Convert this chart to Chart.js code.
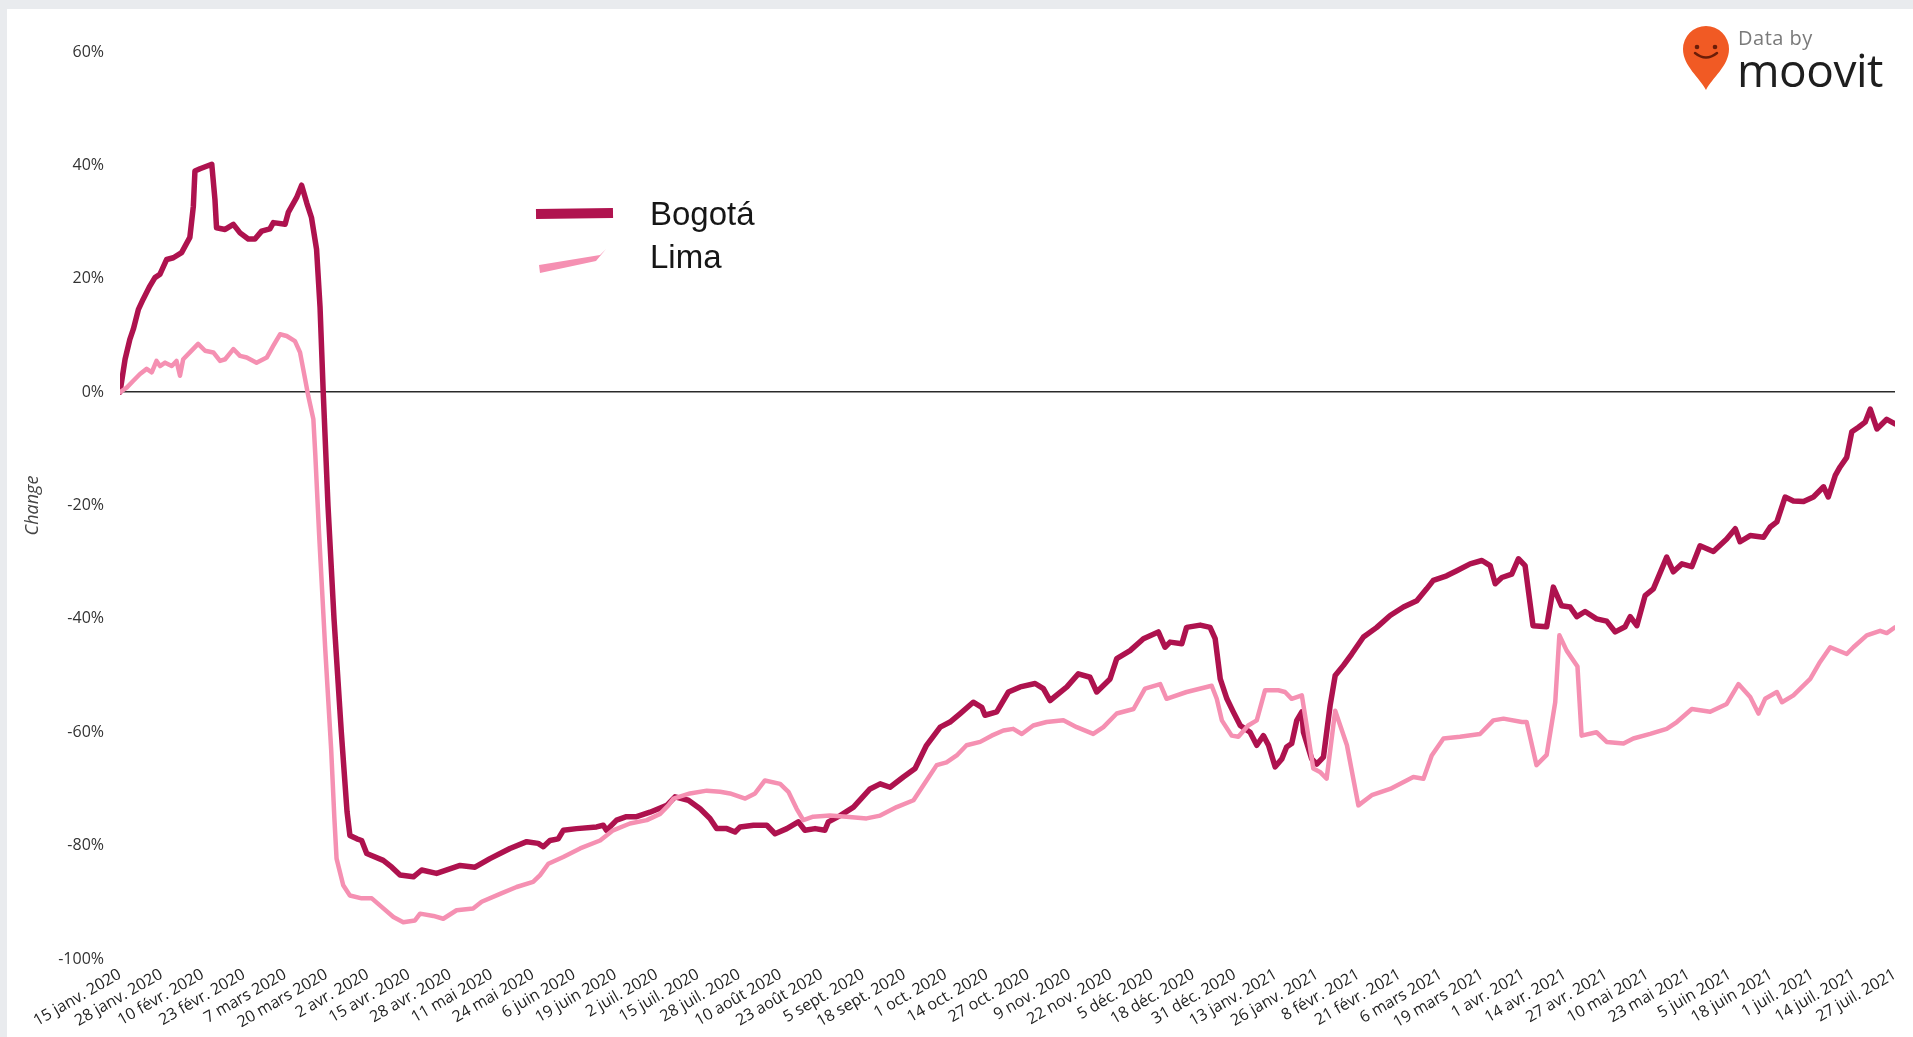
<!DOCTYPE html>
<html>
<head>
<meta charset="utf-8">
<script src="https://cdn.jsdelivr.net/npm/chart.js@4/dist/chart.umd.min.js"></script>
<style>
  html, body { margin: 0; padding: 0; width: 1913px; height: 1037px; overflow: hidden; background: #e9ebee; }
  #card { position: absolute; left: 7px; top: 9px; right: 0; bottom: 0; background: #ffffff; }
  #c { position: absolute; left: 0; top: 0; }
  .legend { position: absolute; left: 530px; top: 190px; font-family: "Liberation Sans", Arial, sans-serif; font-size: 33px; color: #161616; }
  .legend .row { position: absolute; left: 0; white-space: nowrap; height: 40px; }
  .legend .lbl { position: absolute; left: 120px; top: 0; line-height: 40px; }
  .logo { position: absolute; left: 1676px; top: 20px; width: 230px; height: 75px; }
  .logo .data { position: absolute; left: 62px; top: 4px; font-family: "Open Sans", sans-serif; font-size: 20px; color: #7a7a7a; letter-spacing: 0.5px; }
  .logo .moovit { position: absolute; left: 61px; top: 20px; font-family: "Open Sans", sans-serif; font-size: 46px; font-weight: 500; color: #1e1e1e; letter-spacing: -0.5px; line-height: 58px; }
</style>
</head>
<body>
<div id="card"></div>
<canvas id="c" width="1913" height="1037"></canvas>
<div class="legend">
  <div class="row" style="top:4px">
    <svg width="100" height="40" style="position:absolute;left:0;top:0"><line x1="6" y1="20" x2="83" y2="19" stroke="#b0134f" stroke-width="10"/></svg>
    <span class="lbl">Bogotá</span>
  </div>
  <div class="row" style="top:47px">
    <svg width="100" height="40" style="position:absolute;left:0;top:0"><path d="M9 28 L 70 18 L 76 12 L 66 24 L 10 36 Z" fill="#f590b2"/></svg>
    <span class="lbl">Lima</span>
  </div>
</div>
<div class="logo">
  <svg width="56" height="72" style="position:absolute;left:2px;top:2px" viewBox="0 0 56 72">
    <path d="M28 68 C 22 56, 5 44, 5 27 A 23 23 0 0 1 51 27 C 51 44, 34 56, 28 68 Z" fill="#f15a24"/>
    <circle cx="19" cy="25" r="2.3" fill="#6b1d08"/>
    <circle cx="37" cy="25" r="2.3" fill="#6b1d08"/>
    <path d="M17 31 Q 28 40, 39 31" stroke="#6b1d08" stroke-width="2.5" fill="none" stroke-linecap="round"/>
  </svg>
  <div class="data">Data by</div>
  <div class="moovit">moovit</div>
</div>
<script>
const xTickLabels = [
  "15 janv. 2020","28 janv. 2020","10 févr. 2020","23 févr. 2020","7 mars 2020","20 mars 2020",
  "2 avr. 2020","15 avr. 2020","28 avr. 2020","11 mai 2020","24 mai 2020","6 juin 2020",
  "19 juin 2020","2 juil. 2020","15 juil. 2020","28 juil. 2020","10 août 2020","23 août 2020",
  "5 sept. 2020","18 sept. 2020","1 oct. 2020","14 oct. 2020","27 oct. 2020","9 nov. 2020",
  "22 nov. 2020","5 déc. 2020","18 déc. 2020","31 déc. 2020","13 janv. 2021","26 janv. 2021",
  "8 févr. 2021","21 févr. 2021","6 mars 2021","19 mars 2021","1 avr. 2021","14 avr. 2021",
  "27 avr. 2021","10 mai 2021","23 mai 2021","5 juin 2021","18 juin 2021","1 juil. 2021",
  "14 juil. 2021","27 juil. 2021"
];
const yTickValues = [60, 40, 20, 0, -20, -40, -60, -80, -100];
const seriesNames = ["Bogotá", "Lima"];

// days since 15 janv. 2020
const bogotaDays = [0,1.6,3.1,4.2,5.8,7.3,9.4,11,12.6,14.7,16.8,19.4,22,23.1,23.6,25.2,28.9,29.9,30.4,33.1,35.7,37.8,40.4,42.5,44.6,47.2,48.3,52,53,55.6,57.2,58.8,60.3,61.9,63,64,65.5,67.4,69.7,71.5,72.4,74.6,76.1,77.7,82.9,85.6,88.2,92.4,95,99.7,107.1,111.8,116.5,122.8,128.1,131.7,133.3,135.4,138,139.6,143.8,150.1,152.2,153.2,156.4,159.5,162.7,166.9,172.2,174.8,179,182.7,185.8,187.9,191.1,193.7,195.3,199.5,203.7,206.3,210,213.6,215.7,218.9,222,223.1,226.8,231,236.2,239.4,242.5,246.7,250.4,254,258.3,261.4,264.6,268.7,271.4,272.4,276.1,279.8,283.5,288.2,290.8,292.9,298.2,301.8,305.5,307.6,311.8,313.9,318.1,322.3,327,329.1,330.7,334.4,335.9,340.2,343.3,344.9,346.5,348.6,350.6,352.8,355.9,358,360.1,361.7,363.8,365.9,367.4,369,370.6,372.2,372.7,375.3,376.9,379,381.1,382.7,385.3,387.9,391.6,395.8,400,404.2,408.4,411.5,413.6,417.8,421,425.2,428.9,431.5,433.1,435.2,438.3,440.4,442.5,445,449.3,451.4,454,456.7,458.8,461.4,465,468.2,470.9,474,475.6,477.7,480.3,482.9,487.1,489.2,491.9,495,497.6,501.8,506,508.7,510.2,513.4,517.6,519.7,521.8,524.4,527,530.2,533.3,536.5,538,540.2,541.7,543.8,545.4,547.5,549.6,551.2,553.3,556.4,559];
const bogotaChange = [0,5.8,9.3,11.1,14.6,16.4,18.7,20.2,20.8,23.4,23.7,24.6,27.3,32.8,39,39.4,40.2,34,29,28.7,29.6,28.1,27,27,28.4,28.8,29.9,29.6,31.7,34.3,36.5,33.4,30.8,25.2,15,0,-20,-40,-60,-74,-78.2,-78.8,-79.1,-81.4,-82.6,-83.8,-85.2,-85.5,-84.3,-84.9,-83.5,-83.8,-82.3,-80.5,-79.3,-79.6,-80.2,-79.1,-78.8,-77.3,-77,-76.7,-76.4,-77.3,-75.5,-74.9,-74.9,-74.1,-72.9,-71.4,-72,-73.5,-75.2,-77,-77,-77.6,-76.7,-76.4,-76.4,-77.9,-77,-75.8,-77.3,-77,-77.3,-75.8,-74.7,-73.2,-70,-69.1,-69.7,-67.9,-66.4,-62.3,-59.1,-58.2,-56.7,-54.7,-55.6,-57,-56.4,-52.9,-52,-51.4,-52.3,-54.4,-52,-49.7,-50.3,-52.9,-50.6,-47,-45.6,-43.5,-42.3,-45,-44.1,-44.4,-41.5,-41.1,-41.5,-43.5,-50.6,-54.1,-56.4,-58.8,-60,-62.3,-60.6,-62.3,-66.1,-64.7,-62.6,-62,-57.9,-56.4,-60,-64.7,-65.6,-64.4,-55.3,-50,-48.2,-46.2,-43.2,-41.5,-39.4,-37.9,-36.8,-34.7,-33.2,-32.4,-31.5,-30.3,-29.7,-30.6,-33.8,-32.7,-32.1,-29.4,-30.6,-41.2,-41.4,-34.4,-37.7,-37.9,-39.6,-38.7,-40,-40.4,-42.3,-41.4,-39.6,-41.2,-35.9,-34.7,-29.1,-31.7,-30.3,-30.8,-27.1,-28.1,-25.9,-24.1,-26.4,-25.3,-25.6,-23.8,-22.9,-18.5,-19.2,-19.3,-18.5,-16.7,-18.5,-14.7,-13.2,-11.5,-7,-6.2,-5.3,-3,-6.5,-4.8,-5.6];

const limaDays = [0,2.1,4.2,6.3,8.4,10,11.5,12.6,14.2,16.3,17.8,18.9,19.9,22,24.6,26.8,29.4,31.5,33.1,35.7,37.8,39.9,43,46.2,48.3,50.4,52.5,55.1,56.7,58.3,59.3,60.9,61.5,62.7,64.6,66.5,67.5,68.2,70.3,72.4,76.1,79.3,82.4,86.1,89.2,92.9,94.5,98.7,101.8,106,111.2,113.9,119.7,124.9,130.1,132.3,134.9,139.6,144.9,151.2,155.3,160.6,165.9,170.1,172.7,174.3,179.5,184.8,189,192.1,196.9,200,203.1,207.9,210.5,213.1,215.2,218.3,223.6,228.8,235.1,239.4,244.6,249.9,254,257.2,260.3,263.5,266.6,270.9,274.5,278.2,281.3,284,287.6,291.8,297.1,301.3,306.5,309.7,313.9,319.2,322.8,327.6,329.6,335.9,343.8,345.4,347,350.1,352.2,355.3,358,360.6,364.8,366.9,369,372.2,373.7,375.8,377.9,380,382.7,386.4,390,394.2,400,407.3,410.5,413.1,416.8,422,428.3,432.5,435.7,441.5,443,446.1,449.3,452,453.3,455.6,459,460.3,465,468.2,473.5,476.6,481.9,487.1,490.3,495,500.8,506,509.7,513.4,516,518.1,521.8,523.4,527,532.3,535.4,538.6,543.8,545.9,550.1,554.3,556.4,559];
const limaChange = [0,0.8,2,3.2,4.1,3.5,5.5,4.6,5.2,4.6,5.5,2.9,5.8,7,8.5,7.3,7,5.5,5.8,7.6,6.4,6.1,5.2,6.1,8.2,10.2,9.9,9,7,2.3,-0.7,-4.8,-11,-25,-45,-63,-75,-82.3,-87,-88.8,-89.3,-89.3,-90.8,-92.6,-93.5,-93.2,-92,-92.4,-92.9,-91.4,-91.1,-89.9,-88.5,-87.3,-86.4,-85.2,-83.2,-82,-80.5,-79.1,-77.3,-76.1,-75.5,-74.4,-72.9,-71.7,-70.8,-70.3,-70.5,-70.8,-71.7,-70.8,-68.5,-69.1,-70.5,-73.5,-75.5,-74.9,-74.7,-74.9,-75.2,-74.7,-73.2,-72,-68.5,-65.8,-65.3,-64.1,-62.3,-61.7,-60.6,-59.7,-59.4,-60.3,-58.8,-58.2,-57.9,-59.1,-60.3,-59.1,-56.7,-55.9,-52.3,-51.5,-54.1,-52.9,-51.8,-54.1,-57.9,-60.6,-60.8,-58.8,-57.9,-52.6,-52.6,-52.9,-54.1,-53.5,-58.8,-66.4,-67,-68.2,-56.2,-62.3,-72.9,-71.1,-70,-67.9,-68.2,-64.1,-61.1,-60.8,-60.3,-57.9,-57.6,-58.2,-58.2,-65.8,-64,-54.7,-42.9,-45.6,-48.4,-60.6,-60,-61.7,-62,-61.1,-60.3,-59.4,-58.2,-55.9,-56.4,-55,-51.5,-53.8,-56.7,-54.1,-52.9,-54.7,-53.5,-50.6,-47.6,-45,-46.2,-45,-42.9,-42.1,-42.5,-41.5];

const toPoints = (days, vals) => days.map((d, i) => ({ x: d, y: vals[i] }));
const TICK_STEP = 13;
const CHART_LEFT = 120, CHART_BOTTOM_H = 78;

new Chart(document.getElementById('c'), {
  type: 'line',
  data: {
    datasets: [
      { label: seriesNames[0], data: toPoints(bogotaDays, bogotaChange), borderColor: '#ae124e', borderWidth: 5.5, order: 1 },
      { label: seriesNames[1], data: toPoints(limaDays, limaChange), borderColor: '#f590b2', borderWidth: 4.5, order: 0 }
    ]
  },
  options: {
    responsive: false,
    devicePixelRatio: 1,
    animation: false,
    layout: { padding: { top: 52, right: 18, left: 0, bottom: 0 } },
    elements: {
      point: { radius: 0 },
      line: { tension: 0, borderJoinStyle: 'round', borderCapStyle: 'round', fill: false }
    },
    plugins: { legend: { display: false }, tooltip: { enabled: false } },
    scales: {
      x: {
        type: 'linear',
        min: 0,
        max: (xTickLabels.length - 1) * TICK_STEP,
        afterFit: s => { s.height = CHART_BOTTOM_H; },
        afterBuildTicks: s => { s.ticks = xTickLabels.map((_, i) => ({ value: i * TICK_STEP })); },
        grid: { display: false, drawTicks: false },
        border: { display: false },
        ticks: {
          autoSkip: false,
          minRotation: 30,
          maxRotation: 30,
          padding: 6,
          color: '#222',
          font: { family: '"Open Sans", sans-serif', size: 16 },
          callback: v => xTickLabels[Math.round(v / TICK_STEP)]
        }
      },
      y: {
        min: -100,
        max: 60,
        afterFit: s => { s.width = CHART_LEFT; },
        afterBuildTicks: s => { s.ticks = yTickValues.map(v => ({ value: v })); },
        grid: {
          drawTicks: false,
          color: c => (c.tick && c.tick.value === 0) ? '#2a2a2a' : 'rgba(0,0,0,0)',
          lineWidth: c => (c.tick && c.tick.value === 0) ? 1.6 : 0
        },
        border: { display: false },
        title: {
          display: true,
          text: 'Change',
          color: '#444',
          font: { family: '"Open Sans", sans-serif', size: 18, style: 'italic' },
          padding: { top: 22, bottom: 0 }
        },
        ticks: {
          padding: 16,
          color: '#333',
          font: { family: '"Open Sans", sans-serif', size: 16 },
          callback: v => v + '%'
        }
      }
    }
  }
});
</script>
</body>
</html>
